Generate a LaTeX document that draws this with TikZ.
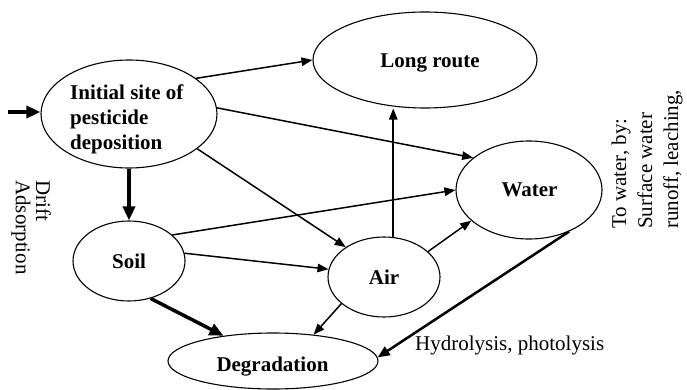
\documentclass[tikz,border=0pt]{standalone}
\usepackage{fontspec}
\setmainfont{Liberation Serif}
\usetikzlibrary{arrows.meta,shapes.geometric}
\begin{document}
\begin{tikzpicture}[x=1pt,y=-1pt,
  ell/.style={draw, ellipse, line width=1.1pt, inner sep=0pt},
  lbl/.style={font=\fontsize{21}{25}\selectfont\bfseries, inner sep=0pt},
  txt/.style={font=\fontsize{21}{25}\selectfont, inner sep=0pt},
  arr/.style={line width=1.5pt, -{Triangle[length=11pt,width=8.5pt]}},
  bigarr/.style={line width=3.5pt, -{Triangle[length=14pt,width=12pt]}},
  midarr/.style={line width=2.5pt, -{Triangle[length=12pt,width=10pt]}}]
\useasboundingbox (0,0) rectangle (687,390);
% ellipses
\node[ell, minimum width=176pt, minimum height=108pt] (init) at (129,114) {};
\node[ell, minimum width=224pt, minimum height=96pt] (long) at (425,60) {};
\node[ell, minimum width=146pt, minimum height=98pt] (water) at (529,190) {};
\node[ell, minimum width=112pt, minimum height=80pt] (soil) at (129,261) {};
\node[ell, minimum width=112pt, minimum height=80pt] (air) at (384,277) {};
\node[ell, minimum width=210pt, minimum height=56pt] (deg) at (273,361) {};
% labels
\node[lbl, anchor=north west, align=left] (initlbl) at (70,85) {Initial site of\\pesticide\\deposition};
\node[lbl, anchor=base] (longlbl) at (430,68) {Long route};
\node[lbl, anchor=base] (waterlbl) at (529.5,196) {Water};
\node[lbl, anchor=base] (soillbl) at (129,268) {Soil};
\node[lbl, anchor=base] (airlbl) at (384,284) {Air};
\node[lbl, anchor=base] (deglbl) at (272.5,371) {Degradation};
\node[txt, anchor=base west] (hyd) at (415,350) {Hydrolysis, photolysis};
\node[txt, anchor=base west, rotate=-90] (drift) at (36,180) {Drift};
\node[txt, anchor=base west, rotate=-90] (ads) at (16,180) {Adsorption};
\node[txt, anchor=base west, rotate=90] (tw1) at (626,229) {To water, by:};
\node[txt, anchor=base west, rotate=90] (tw2) at (652,229) {Surface water};
\node[txt, anchor=base west, rotate=90] (tw3) at (678,229) {runoff, leaching,};
% connectors
\coordinate (src) at (8,112);
\draw[bigarr] (src) -- (src -| init.west);
\draw[arr] (init.28) -- (long.west);
\draw[arr] (init.4) -- (water.150);
\draw[arr] (init.-27) -- (air.142);
\draw[bigarr] (init.south) -- (soil.north);
\draw[arr] (soil.31) -- (water.west);
\draw[arr] (soil.8) -- (air.172);
\draw[bigarr] (soil.-60) -- (deg.153);
\draw[arr] (air.77) -- (air.77 |- long.south);
\draw[arr] (air.30) -- (water.208);
\draw[arr] (air.212) -- (deg.33);
\draw[midarr] (water.-46) -- (deg.2);
\end{tikzpicture}
\end{document}
